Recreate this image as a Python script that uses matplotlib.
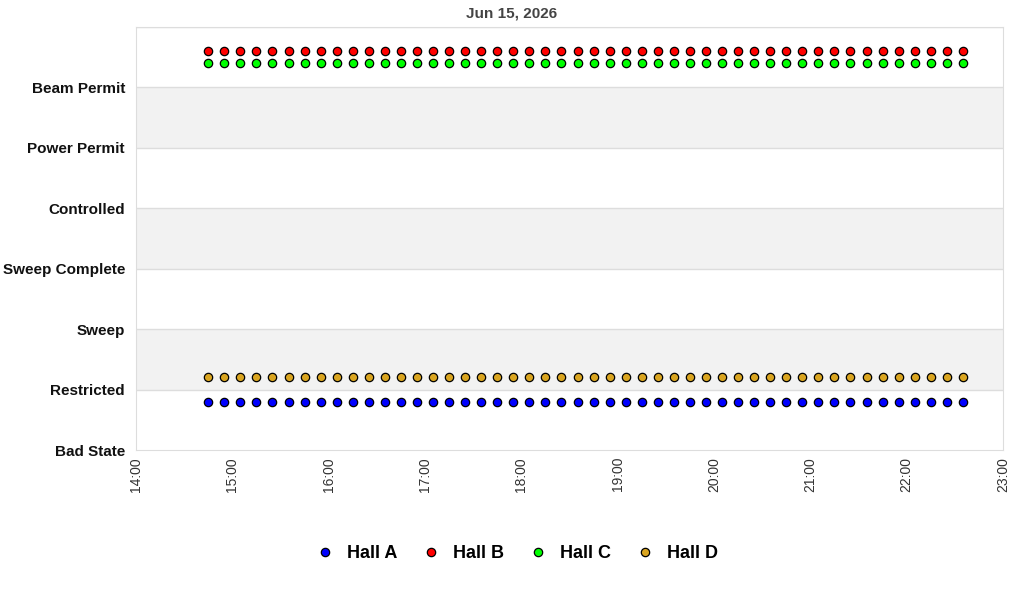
import matplotlib
matplotlib.use('Agg')
import matplotlib.pyplot as plt
import matplotlib.dates as mdates
import pandas as pd

plt.rcParams['font.family'] = ['Liberation Sans', 'DejaVu Sans']

title = 'Jun 15, 2026'
states = ['Bad State', 'Restricted', 'Sweep', 'Sweep Complete', 'Controlled', 'Power Permit', 'Beam Permit']

sample_times = [
    '14:45', '14:55', '15:05', '15:15', '15:25', '15:35', '15:45', '15:55',
    '16:05', '16:15', '16:25', '16:35', '16:45', '16:55', '17:05', '17:15',
    '17:25', '17:35', '17:45', '17:55', '18:05', '18:15', '18:25', '18:35',
    '18:45', '18:55', '19:05', '19:15', '19:25', '19:35', '19:45', '19:55',
    '20:05', '20:15', '20:25', '20:35', '20:45', '20:55', '21:05', '21:15',
    '21:25', '21:35', '21:45', '21:55', '22:05', '22:15', '22:25', '22:35',
]

halls = ['Hall A', 'Hall B', 'Hall C', 'Hall D']
hall_colors = ['#0000ff', '#ff0000', '#00ff00', '#daa520']
# plotted level of each hall (state index plus per-hall offset), constant over the shift
hall_a_level = [0.8] * len(sample_times)
hall_b_level = [6.6] * len(sample_times)
hall_c_level = [6.4] * len(sample_times)
hall_d_level = [1.2] * len(sample_times)
hall_levels = [hall_a_level, hall_b_level, hall_c_level, hall_d_level]

x_start, x_end = '14:00', '23:00'

day = '2026-06-15 '
times = pd.to_datetime([day + t for t in sample_times])

fig = plt.figure(figsize=(10.24, 6), dpi=100)
ax = fig.add_axes([0.1328, 0.25, 0.8467, 0.705])

# alternating bands
for i in range(len(states)):
    if i % 2 == 1:
        ax.axhspan(i, i + 1, color='#f2f2f2', zorder=0, lw=0)
for i in range(1, len(states) + 1):
    ax.axhline(i, color='#dddddd', lw=1, zorder=1)

for name, color, levels in zip(halls, hall_colors, hall_levels):
    ax.plot(times, levels, ls='none', marker='o', ms=6.0, mfc=color, mec='black',
            mew=0.9, label=name, zorder=3)

ax.set_ylim(0, len(states))
ax.set_yticks(range(len(states)))
ax.set_yticklabels(states, fontsize=11, fontweight='bold')
ax.set_xlim(pd.Timestamp(day + x_start), pd.Timestamp(day + x_end))
ax.xaxis.set_major_locator(mdates.HourLocator())
ax.xaxis.set_major_formatter(mdates.DateFormatter('%H:%M'))
ax.tick_params(axis='x', rotation=90, labelsize=10, labelcolor='#333333', length=0, pad=5)
ax.tick_params(axis='y', length=0, pad=8, labelcolor='#111111')
for sp in ax.spines.values():
    sp.set_color('#dddddd')

fig.text(0.5, 0.978, title, ha='center', va='center', fontsize=11,
         fontweight='bold', color='#444444')

fig.legend(loc='center', bbox_to_anchor=(0.504, 0.077), ncol=4, frameon=False,
           prop={'size': 13, 'weight': 'bold'}, handletextpad=0.6, columnspacing=1.3,
           handlelength=1.2)

fig.savefig('out.png', dpi=100)
